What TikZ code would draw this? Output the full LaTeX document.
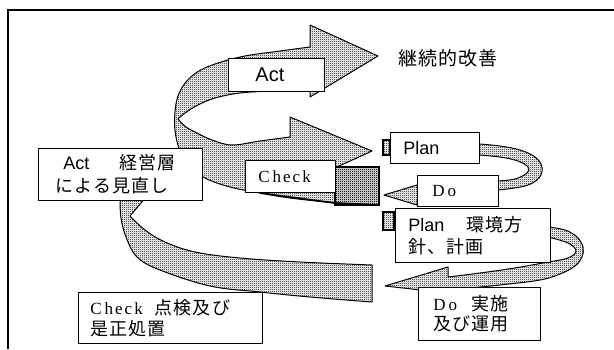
\documentclass[tikz,border=0pt]{standalone}
\usepackage{fontspec}
\usetikzlibrary{patterns.meta}
\setmainfont{Liberation Sans}
\newfontfamily\jp[LetterSpace=6]{Noto Sans CJK JP}
\newfontfamily\srf[LetterSpace=12]{Liberation Serif}
\tikzdeclarepattern{name=htone, type=uncolored, bounding box={(0pt,0pt) and (2pt,2pt)}, tile size={(2pt,2pt)},
  code={\pgfpathrectangle{\pgfpointorigin}{\pgfqpoint{1pt}{1pt}}\pgfpathrectangle{\pgfqpoint{1pt}{1pt}}{\pgfqpoint{1pt}{1pt}}\pgfusepath{fill}}}
\begin{document}
\begin{tikzpicture}[x=1pt,y=-1pt,
  band/.style={fill=black!22,pattern={htone},pattern color=black,draw=black,line width=1pt,line join=round},
  endface/.style={fill=black!40,pattern={htone},pattern color=black,draw=black,line width=1.7pt},
  lbox/.style={draw=black,fill=white,line width=0.9pt,anchor=north west,inner ysep=0pt,align=left,font=\fontsize{18}{22}\selectfont}]
\useasboundingbox (0,0) rectangle (614,349);
% frame
\draw[line width=1.5pt] (8,349) -- (8,10) -- (614,10);
% big lower band
\filldraw[band] (152,190) -- (120,190) -- plot[smooth,tension=0.6] coordinates {(120,200) (121,218) (126,237) (137,257) (160,270) (210,286) (260,292) (310,297) (372,302)} -- (372,265) -- plot[smooth,tension=0.6] coordinates {(372,265) (300,262) (240,258) (195,252) (165,242) (145,230) (130,216)} -- (152,190) -- cycle;
% big upper spiral (Check arrow + Act arrow)
\filldraw[band] (379,167) -- (379,205) -- plot[smooth,tension=0.6] coordinates {(335,203) (290,198) (260,193) (230,187) (205,178) (189,165) (179,148) (175,130) (175,112) (178,96) (186,82) (199,71) (218,63) (245,56) (280,51) (310,47)} -- (310,25) -- (378,56) -- (310,97) -- plot[smooth,tension=0.6] coordinates {(310,89) (270,91) (240,93) (215,98) (198,105) (185,113) (178,119)} -- plot[smooth,tension=0.6] coordinates {(178,119) (186,127) (197,133) (212,140) (232,145) (260,141) (290,137)} -- (290,117) -- (372,151) -- (337,167) -- cycle;
\draw[endface] (335,167) rectangle (379,205);
\draw[line width=1.6pt] (379,205) -- (335,203) -- (260,193);
% small loop Plan -> Do
\filldraw[band] (470,144) -- plot[smooth,tension=0.6] coordinates {(479,144) (500,146) (520,150) (535,157) (542,167) (539,178) (525,186) (498,190)} -- (417,200) -- (417,205) -- (384,195) -- (417,185) -- (417,188) -- plot[smooth,tension=0.6] coordinates {(498,181) (515,179) (527,173) (528,167) (518,161) (500,157) (479,155)} -- (470,155) -- cycle;
% small loop Plan2 -> Do2
\filldraw[band] (540,227) -- plot[smooth,tension=0.6] coordinates {(548,227) (565,230) (577,237) (583,247) (582,257) (575,266) (560,274) (540,280) (500,285) (450,290)} -- (448,293) -- (385,286) -- (448,267) -- (448,277) -- plot[smooth,tension=0.6] coordinates {(448,277) (480,273) (515,268) (548,262)} -- plot[smooth,tension=0.6] coordinates {(548,262) (568,258) (576,251) (568,243) (548,237)} -- (540,237) -- cycle;
% flat ends
\draw[endface] (383,140) rectangle (390,155);
\draw[endface] (383,212) rectangle (394,230);
% label boxes
\node[lbox,minimum height=33pt,inner xsep=27pt,text width=42pt,font=\fontsize{20}{24}\selectfont] (actbox) at (228,58) {Act};
\node[lbox,minimum height=52pt,inner xsep=17pt,text width=130pt,font=\fontsize{18}{23}\selectfont] (leftbox) at (38,148) {\hspace*{8pt}Act\hspace{30pt}{\jp 経営層}\\{\jp による見直し}};
\node[lbox,minimum height=32pt,inner xsep=13pt,text width=64pt,font=\fontsize{17}{22}\selectfont] (checkbox) at (245,160) {\srf C\,heck};
\node[lbox,minimum height=31pt,inner xsep=13pt,text width=63pt] (planbox) at (390,132) {Plan};
\node[lbox,minimum height=31pt,inner xsep=15pt,text width=51pt,font=\fontsize{17}{22}\selectfont] (dobox) at (417,175) {\srf D\,o};
\node[lbox,minimum height=54pt,inner xsep=13pt,text width=129pt] (plantwo) at (395,208) {Plan\hspace{22pt}{\jp 環境方}\\{\jp 針、計画}};
\node[lbox,minimum height=53pt,inner xsep=15pt,text width=92pt,font=\fontsize{18}{20}\selectfont] (dotwo) at (418,287) {{\fontsize{17}{20}\selectfont\srf D\,o}\hspace{14pt}{\jp 実施}\\{\jp 及び運用}};
\node[lbox,minimum height=51pt,inner xsep=12pt,text width=160pt,font=\fontsize{18}{21}\selectfont] (checktwo) at (78,292) {{\fontsize{17}{21}\selectfont\srf C\,heck}\hspace{12pt}{\jp 点検及び}\\{\jp 是正処置}};
\node[font=\fontsize{19}{22}\selectfont\jp] (kaizen) at (448,58) {継続的改善};
\end{tikzpicture}
\end{document}
